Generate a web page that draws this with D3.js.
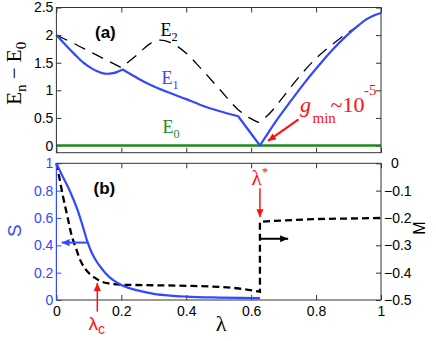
<!DOCTYPE html>
<html>
<head>
<meta charset="utf-8">
<script src="https://cdn.jsdelivr.net/npm/d3@7"></script>
<style>
  body { margin: 0; background: #fff; }
  svg { display: block; }
  .tick text { font-family: "Liberation Sans", Arial, sans-serif; font-size: 14px; }
  .serif { font-family: "Liberation Serif", "Times New Roman", serif; }
  .sans { font-family: "Liberation Sans", Arial, sans-serif; }
</style>
</head>
<body>
<script>
const width = 436,
      height = 341;

const blue = "#3348ff",
      green = "#1e8a1e",
      red = "#ff1010",
      axisColor = "#333";

// ---- panel (a): gaps E_n - E_0 against lambda ----
const e1Data = [
  [0, 2.0], [0.016, 1.9], [0.032, 1.8], [0.055, 1.66], [0.083, 1.5], [0.105, 1.41],
  [0.124, 1.35], [0.155, 1.3], [0.175, 1.31], [0.19, 1.34], [0.204, 1.377],
  [0.25, 1.22], [0.289, 1.10], [0.35, 0.95], [0.4, 0.84], [0.442, 0.74],
  [0.504, 0.62], [0.56, 0.53], [0.627, 0.0],
  [0.675, 0.43], [0.725, 0.83], [0.765, 1.14], [0.807, 1.44], [0.85, 1.73],
  [0.894, 1.99], [0.925, 2.15], [0.956, 2.29], [0.98, 2.36], [1, 2.40]
];
const e1Kinks = [0.204, 0.56, 0.627];

const e2Data = [
  [0, 2.0], [0.05, 1.86], [0.1, 1.71], [0.15, 1.56], [0.2, 1.41],
  [0.25, 1.65], [0.29, 1.85], [0.32, 1.91], [0.35, 1.87], [0.4, 1.67],
  [0.443, 1.41], [0.504, 1.01], [0.56, 0.65], [0.595, 0.5], [0.622, 0.42],
  [0.648, 0.53], [0.7, 0.89], [0.74, 1.19], [0.8, 1.58], [0.85, 1.83],
  [0.894, 2.03], [0.925, 2.15], [0.956, 2.29], [0.98, 2.36], [1, 2.40]
];
const e2Kinks = [0.2, 0.622];

const e0Data = [[0, 0], [1, 0]];

// ---- panel (b): S (left axis) and M (right axis) ----
const sData = [
  [0, 1], [0.01, 0.95], [0.02, 0.9], [0.035, 0.83], [0.05, 0.75], [0.065, 0.66],
  [0.08, 0.55], [0.095, 0.43], [0.11, 0.34], [0.13, 0.26], [0.15, 0.2],
  [0.175, 0.145], [0.2, 0.11], [0.25, 0.07], [0.3, 0.045], [0.35, 0.032],
  [0.4, 0.025], [0.5, 0.018], [0.6, 0.014], [0.627, 0.013]
];

const mData = [
  [0, 0], [0.007, -0.04], [0.021, -0.125], [0.035, -0.2], [0.045, -0.255],
  [0.06, -0.31], [0.072, -0.35], [0.088, -0.385], [0.103, -0.405], [0.12, -0.42],
  [0.134, -0.43], [0.165, -0.44], [0.2, -0.444], [0.3, -0.446], [0.4, -0.448],
  [0.5, -0.452], [0.555, -0.457], [0.627, -0.47],
  [0.627, -0.214], [0.7, -0.209], [0.8, -0.204], [0.9, -0.202], [1, -0.2]
];
const mKinks = [0.627];

// ticks
const xTicks = [0, 0.2, 0.4, 0.6, 0.8, 1];
const eTicks = [0, 0.5, 1, 1.5, 2, 2.5];
const sTicks = [0, 0.2, 0.4, 0.6, 0.8, 1];
const mTicks = [0, -0.1, -0.2, -0.3, -0.4, -0.5];

// annotation arrows, in data units: [x1, y1, x2, y2] (head at x2, y2)
const gapArrow = [0.746, 0.474, 0.652, 0.083];
const sArrow = [0.095, 0.42, 0.016, 0.42];
const lambdaCArrow = [0.126, -0.085, 0.126, 0.125];
const lambdaStarArrow = [0.627, -0.091, 0.627, -0.197];
const mArrow = [0.627, -0.276, 0.714, -0.276];

const svg = d3.select("body").append("svg")
    .attr("width", width)
    .attr("height", height);

const x = d3.scaleLinear([0, 1], [56.4, 381]);
const yE = d3.scaleLinear([-0.13, 2.5], [152.7, 7.5]);
const yS = d3.scaleLinear([0, 1], [300, 163.3]);
const yM = d3.scaleLinear([-0.5, 0], [300, 163.3]);

// arrow heads
const defs = svg.append("defs");
[["red", red], ["blue", blue], ["black", "#000"]].forEach(([name, c]) => {
    defs.append("marker")
      .attr("id", `head-${name}`)
      .attr("viewBox", "0 0 10 10")
      .attr("refX", 10).attr("refY", 5)
      .attr("markerUnits", "userSpaceOnUse")
      .attr("markerWidth", 8).attr("markerHeight", 8)
      .attr("orient", "auto")
      .append("path")
      .attr("d", "M0,0.5 L10,5 L0,9.5 Z")
      .attr("fill", c);
});

function pathWithKinks(xs, ys, pts, kinks) {
    const line = d3.line().x(d => xs(d[0])).y(d => ys(d[1])).curve(d3.curveMonotoneX);
    const segs = [];
    let cur = [];
    pts.forEach(p => {
        cur.push(p);
        if (kinks.includes(p[0]) && cur.length > 1) {
            segs.push(cur);
            cur = [p];
        }
    });
    if (cur.length > 1) segs.push(cur);
    return segs.map((s, i) => {
        const d = line(s);
        return i ? d.replace(/^M/, "L") : d;
    }).join("");
}

function styleAxis(g, color) {
    g.select(".domain").remove();
    g.selectAll(".tick line").attr("stroke", color || axisColor);
    g.selectAll(".tick text").attr("fill", color || "#000");
}

function drawArrow(xs, ys, a, color, name, w) {
    svg.append("line")
      .attr("x1", xs(a[0])).attr("y1", ys(a[1]))
      .attr("x2", xs(a[2])).attr("y2", ys(a[3]))
      .attr("stroke", color)
      .attr("stroke-width", w || 1.5)
      .attr("marker-end", `url(#head-${name})`);
}

// ===== panel (a) =====
const top0 = yE.range()[1], bot0 = yE.range()[0];

svg.append("g").attr("transform", `translate(${x(0)},0)`)
  .call(d3.axisLeft(yE).tickValues(eTicks).tickSize(-5).tickSizeOuter(0).tickPadding(3)
    .tickFormat(d3.format("")))
  .call(g => styleAxis(g));
svg.append("g").attr("transform", `translate(${x(1)},0)`)
  .call(d3.axisRight(yE).tickValues(eTicks).tickSize(-5).tickSizeOuter(0).tickFormat(""))
  .call(g => styleAxis(g));
svg.append("g").attr("transform", `translate(0,${bot0})`)
  .call(d3.axisBottom(x).tickValues(xTicks).tickSize(-5).tickSizeOuter(0).tickFormat(""))
  .call(g => styleAxis(g));
svg.append("g").attr("transform", `translate(0,${top0})`)
  .call(d3.axisTop(x).tickValues(xTicks).tickSize(-5).tickSizeOuter(0).tickFormat(""))
  .call(g => styleAxis(g));

svg.append("path")
  .attr("d", d3.line().x(d => x(d[0])).y(d => yE(d[1]))(e0Data))
  .attr("fill", "none").attr("stroke", green).attr("stroke-width", 2.5);

svg.append("path")
  .attr("d", pathWithKinks(x, yE, e2Data, e2Kinks))
  .attr("fill", "none").attr("stroke", "#000").attr("stroke-width", 1.3)
  .attr("stroke-dasharray", "12,8");

svg.append("path")
  .attr("d", pathWithKinks(x, yE, e1Data, e1Kinks))
  .attr("fill", "none").attr("stroke", blue).attr("stroke-width", 2.2)
  .attr("stroke-linejoin", "round");

svg.append("rect")
  .attr("x", x(0)).attr("y", top0)
  .attr("width", x(1) - x(0)).attr("height", bot0 - top0)
  .attr("fill", "none").attr("stroke", axisColor).attr("stroke-width", 1);

drawArrow(x, yE, gapArrow, red, "red", 2);

// labels (a)
svg.append("text").attr("class", "sans")
  .attr("x", 95).attr("y", 37.5)
  .attr("font-size", 17).attr("font-weight", "bold")
  .text("(a)");

function subLabel(tx, ty, main, sub, color, size) {
    const t = svg.append("text").attr("class", "serif")
      .attr("x", tx).attr("y", ty)
      .attr("font-size", size).attr("fill", color);
    t.append("tspan").text(main);
    t.append("tspan").attr("font-size", size * 0.68).attr("dy", size * 0.3).text(sub);
    return t;
}
subLabel(160.5, 36, "E", "2", "#000", 18);
subLabel(161.5, 84, "E", "1", blue, 18);
subLabel(162.5, 132.7, "E", "0", green, 18);

const gm = svg.append("text").attr("class", "serif").attr("fill", red);
gm.append("tspan").attr("x", 300).attr("y", 111.5).attr("font-size", 22)
  .attr("font-style", "italic").text("g");
gm.append("tspan").attr("x", 312.5).attr("y", 123).attr("font-size", 15).text("min");
gm.append("tspan").attr("x", 330.5).attr("y", 111.5).attr("font-size", 22).text("~10");
gm.append("tspan").attr("x", 364).attr("y", 95).attr("font-size", 15).text("-5");

const yl = svg.append("text").attr("class", "serif")
  .attr("transform", "translate(21,73.3) rotate(-90)")
  .attr("text-anchor", "middle").attr("font-size", 21);
yl.append("tspan").text("E");
yl.append("tspan").attr("font-size", 15).attr("dy", 5).text("n");
yl.append("tspan").attr("dy", -5).text(" \u2212 E");
yl.append("tspan").attr("font-size", 15).attr("dy", 5).text("0");

// ===== panel (b) =====
const top1 = yS.range()[1], bot1 = yS.range()[0];

svg.append("g").attr("transform", `translate(0,${bot1})`)
  .call(d3.axisBottom(x).tickValues(xTicks).tickSize(-5).tickSizeOuter(0).tickPadding(6)
    .tickFormat(d3.format("")))
  .call(g => styleAxis(g));
svg.append("g").attr("transform", `translate(0,${top1})`)
  .call(d3.axisTop(x).tickValues(xTicks).tickSize(-5).tickSizeOuter(0).tickFormat(""))
  .call(g => styleAxis(g));
svg.append("g").attr("transform", `translate(${x(1)},0)`)
  .call(d3.axisRight(yM).tickValues(mTicks).tickSize(-5).tickSizeOuter(0).tickPadding(3)
    .tickFormat(d => d === 0 ? "0" : d3.format(".1f")(d)))
  .call(g => styleAxis(g))
  .call(g => g.selectAll(".tick text").filter(d => d === 0).attr("dx", 7));
svg.append("g").attr("transform", `translate(${x(0)},0)`)
  .call(d3.axisLeft(yS).tickValues(sTicks).tickSize(-5).tickSizeOuter(0).tickPadding(3)
    .tickFormat(d3.format("")))
  .call(g => styleAxis(g, blue));

svg.append("line")
  .attr("x1", x(0)).attr("x2", x(1)).attr("y1", top1).attr("y2", top1)
  .attr("stroke", axisColor);
svg.append("line")
  .attr("x1", x(0)).attr("x2", x(1)).attr("y1", bot1).attr("y2", bot1)
  .attr("stroke", axisColor);
svg.append("line")
  .attr("x1", x(1)).attr("x2", x(1)).attr("y1", top1).attr("y2", bot1)
  .attr("stroke", axisColor);

svg.append("path")
  .attr("d", pathWithKinks(x, yM, mData, mKinks))
  .attr("fill", "none").attr("stroke", "#000").attr("stroke-width", 2.3)
  .attr("stroke-dasharray", "7,4");

svg.append("path")
  .attr("d", d3.line().x(d => x(d[0])).y(d => yS(d[1])).curve(d3.curveMonotoneX)(sData))
  .attr("fill", "none").attr("stroke", blue).attr("stroke-width", 2.2);

svg.append("line")
  .attr("x1", x(0)).attr("x2", x(0)).attr("y1", top1).attr("y2", bot1)
  .attr("stroke", blue).attr("stroke-width", 1.2);

drawArrow(x, yS, sArrow, blue, "blue", 2);
drawArrow(x, yS, lambdaCArrow, red, "red", 1.5);
drawArrow(x, yM, lambdaStarArrow, red, "red", 1.5);
drawArrow(x, yM, mArrow, "#000", "black", 2);

svg.append("text").attr("class", "sans")
  .attr("x", 93.5).attr("y", 193.5)
  .attr("font-size", 17).attr("font-weight", "bold")
  .text("(b)");

const ls = svg.append("text").attr("class", "serif").attr("fill", red)
  .attr("x", 251.5).attr("y", 185).attr("font-size", 21);
ls.append("tspan").text("\u03bb");
ls.append("tspan").attr("font-size", 13).attr("dy", -9).text("*");

const lc = svg.append("text").attr("class", "sans").attr("fill", red)
  .attr("x", 88.5).attr("y", 329.5).attr("font-size", 19);
lc.append("tspan").text("\u03bb");
lc.append("tspan").attr("font-size", 14).attr("dy", 4).text("c");

svg.append("text").attr("class", "serif")
  .attr("x", 221).attr("y", 331).attr("text-anchor", "middle")
  .attr("font-size", 22).text("\u03bb");

svg.append("text").attr("class", "sans").attr("fill", blue)
  .attr("transform", "translate(21,230.7) rotate(-90)")
  .attr("text-anchor", "middle").attr("font-size", 19).text("S");

svg.append("text").attr("class", "sans")
  .attr("transform", "translate(424.5,228) rotate(-90)")
  .attr("text-anchor", "middle").attr("font-size", 16).text("M");
</script>
</body>
</html>
